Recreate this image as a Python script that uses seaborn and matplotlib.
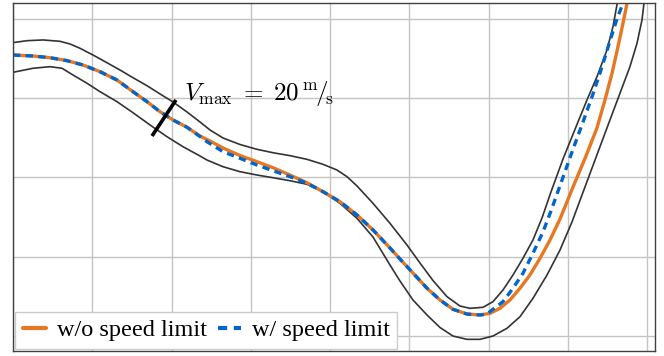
import numpy as np
import pandas as pd
import seaborn as sns
import matplotlib.pyplot as plt

# track and trajectories (metres, grid = 10 m)
left_x = [0.00, 1.77, 3.78, 5.93, 7.19, 8.45, 10.09, 11.85, 13.49, 15.13, 16.90, 18.54, 20.18,
          21.94, 23.58, 24.84, 26.48, 28.62, 30.77, 32.79, 34.93, 37.07, 39.09, 40.86, 42.12,
          43.38, 45.40, 47.54, 49.68, 51.32, 52.96, 54.73, 56.37, 57.63, 59.27, 60.53, 61.79,
          63.05, 64.31, 65.57, 66.71, 67.84, 69.36, 70.99, 72.38, 73.64, 74.90, 75.66, 76.16, 76.29]
left_y = [36.99, 37.24, 37.33, 37.16, 36.82, 36.28, 35.43, 34.46, 33.54, 32.57, 31.56, 30.52, 29.51,
          28.25, 26.99, 25.98, 24.97, 24.15, 23.54, 23.11, 22.74, 22.28, 21.65, 20.93, 20.09,
          18.92, 16.73, 14.21, 11.48, 9.21, 7.00, 4.96, 3.78, 3.49, 3.62, 4.33, 5.80,
          7.69, 9.80, 12.11, 14.88, 18.16, 22.32, 26.35, 29.76, 32.70, 36.06, 39.00, 41.74, 42.75]

right_x = [0.00, 2.52, 4.67, 6.18, 7.57, 9.33, 10.97, 13.11, 15.13, 17.28, 19.42, 21.44, 23.58,
           24.46, 26.48, 28.62, 30.77, 32.79, 34.93, 37.07, 39.09, 41.23, 43.38, 45.40, 47.54,
           48.80, 50.44, 52.21, 53.85, 55.48, 57.25, 58.89, 60.53, 62.29, 63.93, 65.57, 67.34,
           68.98, 70.49, 72.13, 73.77, 75.28, 76.54, 77.80, 78.69, 79.32, 79.57, 79.70]
right_y = [33.25, 33.76, 33.96, 33.76, 32.91, 31.87, 30.81, 29.55, 28.16, 26.61, 25.13, 23.87, 22.70,
           22.19, 21.35, 20.72, 20.30, 19.96, 19.58, 19.13, 18.20, 16.73, 14.84, 12.48, 8.95,
           6.94, 4.54, 2.65, 1.07, 0.00, -0.42, -0.42, 0.00, 0.97, 2.43, 4.75, 7.69,
           10.84, 14.38, 18.79, 23.20, 27.24, 30.60, 33.96, 36.91, 39.85, 41.95, 42.75]

free_x = [0.00, 2.52, 4.67, 6.81, 8.83, 10.97, 13.11, 15.13, 16.90, 18.54, 20.18, 21.94, 23.58,
          24.84, 26.48, 28.62, 30.77, 32.79, 34.93, 37.07, 39.09, 41.23, 43.38, 45.40, 47.54,
          48.80, 50.44, 52.21, 53.85, 55.48, 57.25, 58.89, 60.15, 61.41, 62.67, 63.93, 65.19,
          66.46, 67.72, 68.98, 70.62, 72.26, 73.64, 74.65, 75.54, 76.29, 76.92, 77.43, 77.55]
free_y = [35.43, 35.31, 35.09, 34.72, 34.17, 33.33, 32.28, 30.81, 29.55, 28.28, 27.24, 26.32, 25.22,
          24.59, 23.71, 22.76, 21.98, 21.22, 20.30, 19.33, 18.20, 16.94, 15.26, 13.37, 11.10,
          9.71, 7.94, 6.02, 4.54, 3.37, 2.77, 2.65, 2.86, 3.49, 4.54, 6.02, 7.69,
          9.80, 12.11, 14.75, 18.79, 22.70, 26.23, 29.76, 33.13, 36.48, 39.43, 41.95, 42.75]

lim_x = [0.00, 2.52, 4.67, 6.81, 8.83, 10.97, 13.11, 15.13, 16.90, 18.54, 20.18, 21.94, 23.58,
         24.46, 26.48, 28.62, 30.77, 32.79, 34.93, 37.07, 39.09, 41.23, 43.38, 45.40, 47.54,
         48.80, 50.44, 52.21, 53.85, 55.48, 57.25, 58.89, 59.77, 60.53, 61.79, 63.05, 64.31,
         65.57, 66.83, 67.84, 69.10, 70.49, 71.88, 73.14, 74.27, 75.28, 76.16, 76.92, 77.05]
lim_y = [35.43, 35.31, 35.09, 34.72, 34.17, 33.33, 32.28, 30.81, 29.55, 28.28, 27.24, 26.32, 25.16,
         24.50, 23.24, 22.41, 21.56, 20.84, 20.09, 19.26, 18.20, 16.94, 15.26, 13.37, 11.10,
         9.71, 7.94, 6.02, 4.54, 3.37, 2.77, 2.65, 2.77, 3.37, 4.33, 6.02, 7.91,
         10.43, 13.11, 15.76, 19.29, 23.20, 26.99, 30.52, 33.92, 37.20, 39.97, 41.95, 42.75]

# speed limit marker across the track
mark_x = [17.53, 20.55]
mark_y = [25.22, 29.76]

orange = "#E87722"
blue = "#0066CC"
edge = "#333333"

sns.set_theme(style="whitegrid")
plt.rcParams["mathtext.fontset"] = "cm"
plt.rcParams["font.family"] = ["Liberation Serif", "DejaVu Serif"]

fig = plt.figure(figsize=(6.64, 3.56), dpi=100)
ax = fig.add_axes([13 / 664, 5 / 356, 642 / 664, 348 / 356])

sns.lineplot(x=left_x, y=left_y, sort=False, estimator=None, color=edge, linewidth=1.2, ax=ax)
sns.lineplot(x=right_x, y=right_y, sort=False, estimator=None, color=edge, linewidth=1.2, ax=ax)
sns.lineplot(x=free_x, y=free_y, sort=False, estimator=None, color=orange, linewidth=2.4,
             label="w/o speed limit", ax=ax)
sns.lineplot(x=lim_x, y=lim_y, sort=False, estimator=None, color=blue, linewidth=2.4,
             label="w/ speed limit", ax=ax)
ax.lines[-1].set_dashes((2.2, 1.6))
for ln in ax.lines:
    ln.set_solid_joinstyle("round")
ax.plot(mark_x, mark_y, color="black", linewidth=2.6, solid_capstyle="butt")
ax.text(21.6, 29.8, r"$V_{\mathrm{max}}\;=\;20\,{}^{\mathrm{m}}\!/\!{}_{\mathrm{s}}$",
        fontsize=18, color="black", va="baseline", ha="left")

ax.set_xlim(0, 80.96)
ax.set_ylim(-1.89, 41.99)
ax.set_xticks(np.arange(0, 81, 10))
ax.set_yticks(np.arange(0, 41, 10))
ax.set_xticklabels([])
ax.set_yticklabels([])
ax.tick_params(length=0)
ax.grid(True, color="#c4c4c4", linewidth=1.0)
for s in ax.spines.values():
    s.set_color("#404040")
    s.set_linewidth(1.0)

leg = ax.legend(loc="lower left", ncol=2, fontsize=17.5, frameon=True, fancybox=False,
                framealpha=1, edgecolor="#cccccc", handlelength=0.95, handletextpad=0.45,
                columnspacing=0.45, borderpad=0.3, borderaxespad=0.1)
leg.get_frame().set_linewidth(1.0)
for t in leg.get_texts():
    t.set_color("black")
for h in leg.get_lines():
    h.set_linewidth(3.0)

fig.savefig("out.png", dpi=100)
